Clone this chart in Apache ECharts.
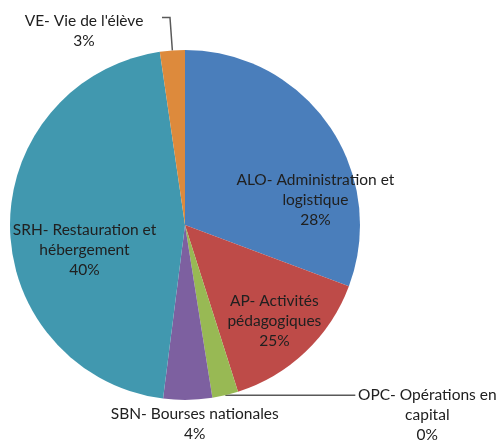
<!DOCTYPE html>
<html>
<head>
<meta charset="utf-8">
<script src="https://cdn.jsdelivr.net/npm/echarts@6/dist/echarts.min.js"></script>
<style>
html, body { margin: 0; padding: 0; background: #fff; }
#chart { width: 499px; height: 443px; }
</style>
</head>
<body>
<div id="chart"></div>
<script>
// slice sizes (angles), the printed percentages are separate
var names = ['ALO- Administration et\nlogistique', 'AP- Activités\npédagogiques', 'OPC- Opérations en\ncapital', 'SBN- Bourses nationales', 'SRH- Restauration et\nhébergement', 'VE- Vie de l\'élève']
var values = [30.7, 14.4, 2.4, 4.5, 45.7, 2.3]
var shownPct = ['28%', '25%', '0%', '4%', '40%', '3%']
var colors = ['#4a7ebb', '#be4b48', '#98b954', '#7d60a0', '#4198af', '#dd8a3c']

// label nudges (inside labels) - index by slice
var insideShift = { 0: [56, 27], 1: [27, 30], 4: [-10, 24] }

var pieData = values.map(function (v, i) {
  var d = { value: v, name: names[i], itemStyle: { color: colors[i] } }
  if (insideShift[i]) {
    d.label = { position: 'inside' }
    d.labelLine = { show: false }
  } else if (i === 3) {
    d.label = { position: 'outside' }
    d.labelLine = { show: false, length: 2, length2: 2 }
  } else if (i === 2) {
    d.labelLine = { show: true, length: 0, length2: 130 }
  } else {
    d.labelLine = { show: true, length: 33, length2: 8 }
  }
  return d
})

var myChart = echarts.init(document.getElementById('chart'))
myChart.setOption({
  animation: false,
  series: [{
    type: 'pie',
    center: [185, 225],
    radius: 175,
    startAngle: 90,
    clockwise: true,
    avoidLabelOverlap: false,
    label: {
      show: true,
      position: 'outside',
      formatter: function (p) { return p.name + '\n' + shownPct[p.dataIndex] },
      color: '#202020',
      fontFamily: 'Lato',
      fontSize: 15.5,
      lineHeight: 20,
      align: 'center'
    },
    labelLine: {
      lineStyle: { color: '#595959', width: 1.5 }
    },
    labelLayout: function (p) {
      var i = p.dataIndex
      if (insideShift[i]) {
        return { dx: insideShift[i][0], dy: insideShift[i][1] }
      }
      var pts = p.labelLinePoints
      var end = pts[pts.length - 1]
      if (i === 5) {
        return { x: end[0] - 78, y: end[1] - 7, align: 'center', verticalAlign: 'top', labelLinePoints: pts }
      }
      if (i === 2) {
        return { x: end[0] + 72, y: end[1] - 10, align: 'center', verticalAlign: 'top', labelLinePoints: pts }
      }
      if (i === 3) {
        return { x: pts[0][0] + 7, y: pts[0][1] + 4, align: 'center', verticalAlign: 'top', labelLinePoints: pts }
      }
    },
    data: pieData
  }]
})
</script>
</body>
</html>
